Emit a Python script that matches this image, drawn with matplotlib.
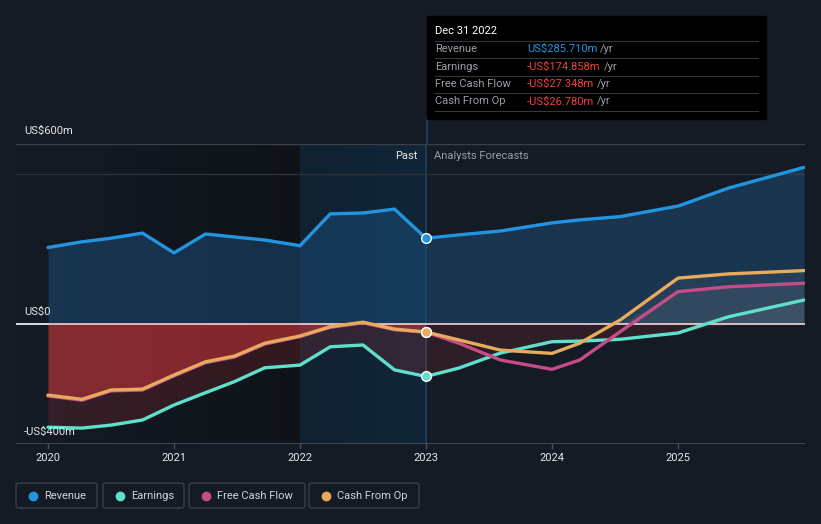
import numpy as np
import matplotlib.pyplot as plt
from matplotlib.patches import FancyBboxPatch, Rectangle

plt.rcParams['font.family'] = ['Roboto', 'DejaVu Sans']

# Data (US$m)
years = [2020.0, 2020.27, 2020.5, 2020.75, 2021.0, 2021.25, 2021.48, 2021.72, 2022.0,
         2022.24, 2022.5, 2022.75, 2023.0, 2023.26, 2023.59, 2024.0, 2024.22, 2024.54,
         2025.0, 2025.4, 2026.0]
revenue = [255, 274, 286, 303, 237, 300, 290, 280, 261, 367, 370, 383, 285.7, 297, 310,
           337, 347, 358, 393, 453, 522]
earnings = [-344, -347, -337, -320, -270, -229, -192, -146, -137, -76, -70, -153, -174.9,
            -147, -97, -59, -57, -51, -30, 24, 80]
fcf = [-240, -254, -223, -220, -173, -129, -110, -67, -42, -11, 4, -19, -27.3, -64, -120,
       -151, -120, -26, 108, 124, 136]
cfo = [-237, -251, -220, -217, -170, -126, -107, -64, -40, -9, 6, -17, -26.8, -53, -87,
       -98, -64, 13, 153, 167, 178]

xticks = [2020, 2021, 2022, 2023, 2024, 2025]
series = ['Revenue', 'Earnings', 'Free Cash Flow', 'Cash From Op']
colors = ['#2394df', '#5ee0cb', '#c64b89', '#e8aa5c']
tip_values = ['US$285.710m', '-US$174.858m', '-US$27.348m', '-US$26.780m']

BG = '#151b25'
W, H = 821, 524
FS = 8

fig = plt.figure(figsize=(W / 100, H / 100), dpi=100, facecolor=BG)
ax = fig.add_axes([16 / W, (H - 444) / H, 789 / W, 300 / H])
ax.set_facecolor(BG)
x0 = 2020 - 32 / 126
x1 = 2020 + 757 / 126
ax.set_xlim(x0, x1)
ax.set_ylim(-400, 600)
for s in ax.spines.values():
    s.set_visible(False)
ax.set_xticks([])
ax.set_yticks([])

# background regions
grad = np.linspace(0, 1, 256).reshape(1, -1)
ax.imshow(grad, extent=[x0, 2022, -400, 600], aspect='auto', zorder=0,
          cmap=plt.matplotlib.colors.LinearSegmentedColormap.from_list('g', [BG, '#0f1319']))
ax.imshow(grad, extent=[2022, 2023, -400, 600], aspect='auto', zorder=0,
          cmap=plt.matplotlib.colors.LinearSegmentedColormap.from_list('b', ['#112130', '#102638']))
ax.axvline(2023, color='#1c3c55', lw=1.5, zorder=1)

ax.axhline(600, color='#3a404a', lw=1, zorder=1)
ax.axhline(500, color='#2c323c', lw=1, zorder=1)
ax.axhline(-400, color='#4a505a', lw=1.2, zorder=1)

yr = np.array(years)
rev = np.array(revenue)
ea = np.array(earnings)
fc = np.array(fcf)
co = np.array(cfo)
past = yr <= 2023
fut = yr >= 2023

# fills
ax.fill_between(yr, 0, rev, color='#1e5686', alpha=0.45, lw=0, zorder=2)
ax.fill_between(yr[past], 0, ea[past], color='#e5393e', alpha=0.16, lw=0, zorder=2)
ax.fill_between(yr[past], 0, co[past], color='#e5393e', alpha=0.45, lw=0, zorder=2)
ax.fill_between(yr[fut], 0, np.minimum(ea[fut], 0), color='#e5393e', alpha=0.12, lw=0, zorder=2)
for v in (ea, fc, co):
    ax.fill_between(yr[fut], 0, np.maximum(v[fut], 0), color='#8a8f99', alpha=0.12, lw=0, zorder=2)

ax.plot([x0, 2020], [0, 0], color='white', lw=1.2, zorder=3)
ax.plot([2020, x1], [0, 0], color='#f2d6d6', lw=1.2, zorder=3)

for vals, c in zip([rev, ea, fc, co], colors):
    ax.plot(yr, vals, color=c, lw=2.4, zorder=4, solid_capstyle='round',
            solid_joinstyle='round')
    i = years.index(2023.0)
    ax.plot(yr[i], vals[i], 'o', ms=7, color=c, mec='white', mew=1, zorder=5)

# y labels
ax.text(x0 + 8 / 126, 643, 'US$600m', color='#e6e6e6', fontsize=FS,
        va='center', ha='left', clip_on=False)
ax.text(x0 + 8 / 126, 40, 'US$0', color='#e6e6e6', fontsize=FS, va='center', ha='left')
ax.text(x0 + 8 / 126, -360, '-US$400m', color='#e6e6e6', fontsize=FS, va='center', ha='left',
        zorder=6)

ax.text(2023 - 8 / 126, 560, 'Past', color='#e6e6e6', fontsize=FS, ha='right', va='center')
ax.text(2023 + 8 / 126, 560, 'Analysts Forecasts', color='#9aa0a8', fontsize=FS,
        ha='left', va='center')

# x ticks
for t in xticks:
    ax.plot([t, t], [-400, -412], color='#4a505a', lw=1, clip_on=False)
    ax.text(t, -447, str(t), color='#e6e6e6', fontsize=FS, ha='center', va='center',
            clip_on=False)


def fx(px):
    return px / W


def fy(py):
    return 1 - py / H


# vertical line up to tooltip
fig.add_artist(plt.Line2D([fx(427), fx(427)], [fy(144), fy(119)], color='#1c3c55', lw=1.5))

# tooltip
fig.add_artist(Rectangle((fx(427), fy(119)), fx(339), 103 / H, color='black', zorder=10))
fig.text(fx(435), fy(31), 'Dec 31 2022', color='white', fontsize=FS, va='center', zorder=11)
for k, yl in enumerate([41, 58, 76, 93, 111]):
    fig.add_artist(plt.Line2D([fx(435), fx(758)], [fy(yl), fy(yl)], color='#333840', lw=0.8,
                              zorder=11))
for k, (name, val) in enumerate(zip(series, tip_values)):
    yy = fy(49 + k * 17.5)
    fig.text(fx(435), yy, name, color='#9a9ea6', fontsize=FS, va='center', zorder=11)
    vc = colors[0] if k == 0 else '#f0403c'
    t = fig.text(fx(527), yy, val, color=vc, fontsize=FS, va='center', zorder=11)
    fig.canvas.draw()
    bb = t.get_window_extent()
    fig.text(bb.x1 / W + 3 / W, yy, '/yr', color='#9a9ea6', fontsize=FS, va='center',
             zorder=11)

# legend
boxes = [(16, 97), (103, 184), (189, 305), (309, 419)]
for (bx0, bx1), name, c in zip(boxes, series, colors):
    fig.add_artist(FancyBboxPatch((fx(bx0), fy(508)), fx(bx1 - bx0), 25 / H,
                                  boxstyle='round,pad=0,rounding_size=0.004',
                                  fc='none', ec='#3a404a', lw=1))
    fig.add_artist(plt.Line2D([fx(bx0 + 17)], [fy(496)], marker='o', ms=6, color=c, lw=0))
    fig.text(fx(bx0 + 28), fy(496), name, color='#d0d3d8', fontsize=FS, va='center')

fig.savefig('out.png', dpi=100, facecolor=BG)
